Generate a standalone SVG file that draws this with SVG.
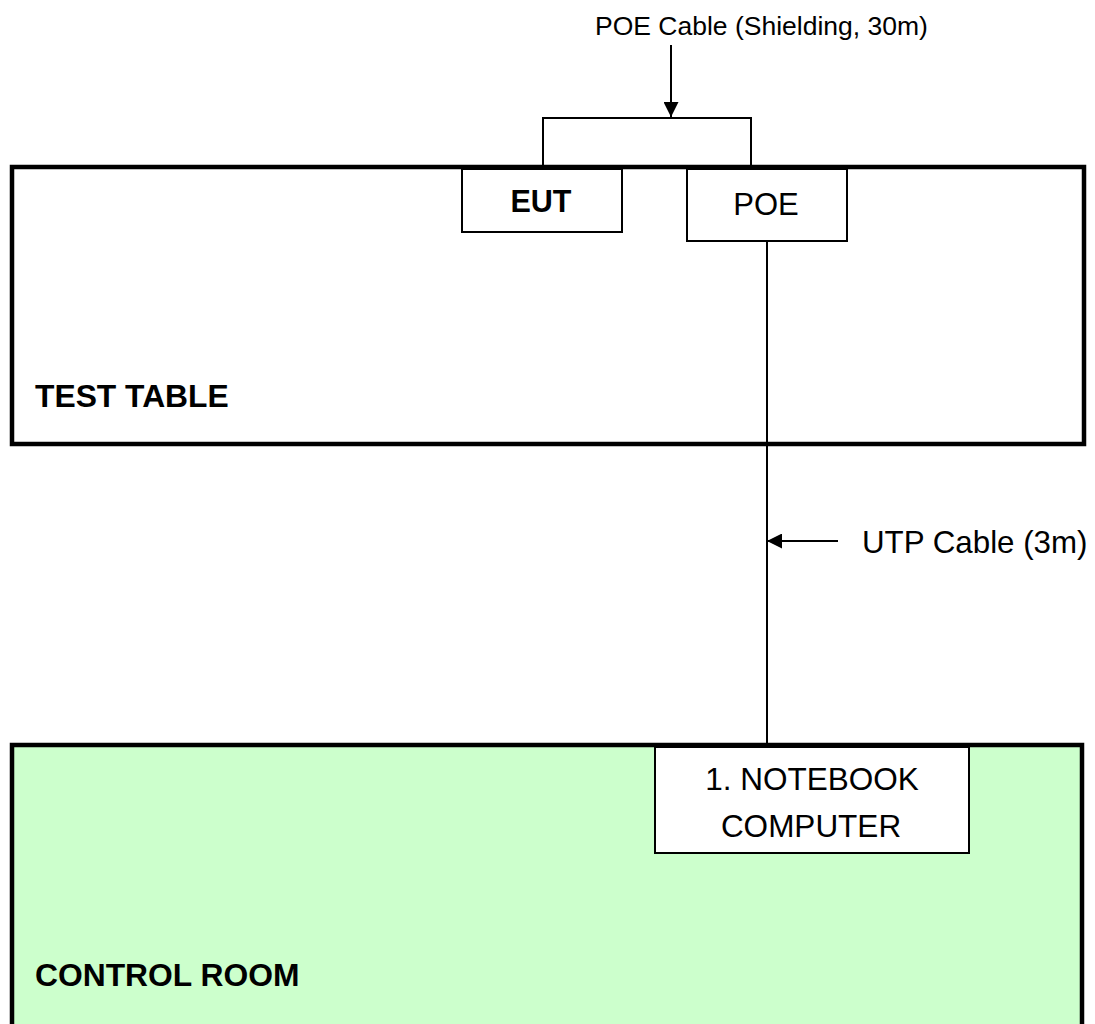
<svg xmlns="http://www.w3.org/2000/svg" width="1095" height="1024" viewBox="0 0 1095 1024">
<style>
.t{font-family:"Liberation Sans",Arial,sans-serif;fill:#000}
.b{font-weight:bold}
.area{stroke:#000;stroke-width:4.5}
.box{fill:#fff;stroke:#000;stroke-width:2}
.ln{fill:none;stroke:#000;stroke-width:2}
</style>
<defs>
<marker id="ah" markerWidth="15" markerHeight="15" refX="15" refY="7.5" orient="auto" markerUnits="userSpaceOnUse" viewBox="0 0 15 15">
<path d="M0,0 L15,7.5 L0,15 Z" fill="#000"/>
</marker>
</defs>
<rect width="1095" height="1024" fill="#fff"/>
<g id="test-table">
<rect class="area" x="12" y="167" width="1072" height="277" fill="#fff"/>
<text class="t b" x="35" y="407" font-size="31.8">TEST TABLE</text>
</g>
<g id="control-room">
<rect class="area" x="12" y="745" width="1070" height="300" fill="#CCFFCC"/>
<text class="t b" x="35" y="986" font-size="31.8">CONTROL ROOM</text>
</g>
<g id="eut">
<rect class="box" x="462" y="169" width="160" height="63"/>
<text class="t b" x="541" y="212" font-size="30.5" text-anchor="middle">EUT</text>
</g>
<g id="poe">
<rect class="box" x="687" y="169" width="160" height="72"/>
<text class="t" x="766" y="215" font-size="31" text-anchor="middle">POE</text>
</g>
<g id="notebook">
<rect class="box" x="655" y="747" width="314" height="106"/>
<text class="t" x="812" y="790" font-size="31.5" text-anchor="middle">1. NOTEBOOK</text>
<text class="t" x="811" y="837" font-size="31.5" text-anchor="middle">COMPUTER</text>
</g>
<g id="connectors">
<path class="ln" d="M543,165 V118 H751 V165"/>
<line class="ln" x1="671" y1="45" x2="671" y2="117" marker-end="url(#ah)"/>
<line class="ln" x1="767" y1="241" x2="767" y2="743"/>
<line class="ln" x1="838" y1="541" x2="767" y2="541" marker-end="url(#ah)"/>
</g>
<g id="labels">
<text class="t" x="595" y="35" font-size="26.5">POE Cable (Shielding, 30m)</text>
<text class="t" x="862" y="553" font-size="31.3">UTP Cable (3m)</text>
</g>
</svg>
